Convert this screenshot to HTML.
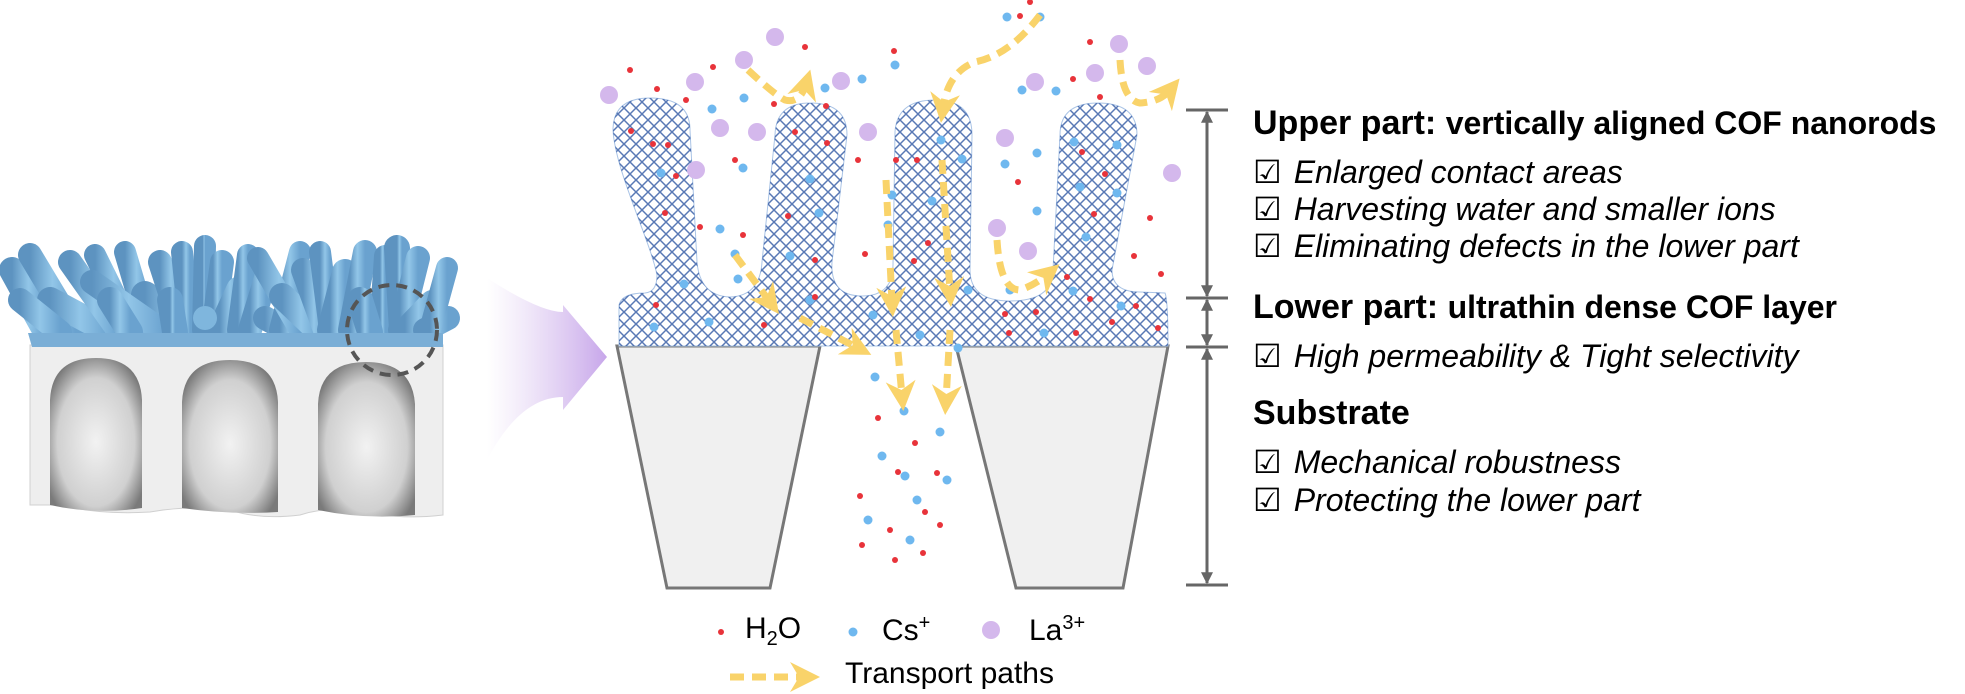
<!DOCTYPE html>
<html><head><meta charset="utf-8"><style>
html,body{margin:0;padding:0;background:#fff;}
body{width:1965px;height:694px;overflow:hidden;position:relative;font-family:"Liberation Sans",Arial,sans-serif;}
svg{position:absolute;left:0;top:0;}
.t{position:absolute;white-space:nowrap;color:#000;}
.h{font-weight:bold;font-size:34px;}
.h small{font-size:32px;}
.i{font-style:italic;font-size:32px;}
.i span{font-style:normal;margin-right:12px;}
</style></head><body>
<svg width="1965" height="694" viewBox="0 0 1965 694">
<defs>
<pattern id="hatch" width="12" height="12" patternUnits="userSpaceOnUse">
<path d="M0,0 L12,12 M12,0 L0,12" stroke="#2f57a3" stroke-width="1.5"/>
</pattern>
<linearGradient id="pg" x1="0" x2="1" y1="0" y2="0">
<stop offset="0" stop-color="#d9c3ee" stop-opacity="0"/>
<stop offset="1" stop-color="#c7a6ea"/>
</linearGradient>
<radialGradient id="pore" cx="0.5" cy="0.55" r="0.6">
<stop offset="0" stop-color="#f2f2f2"/>
<stop offset="0.7" stop-color="#d0d0d0"/>
<stop offset="1" stop-color="#7a7a7a"/>
</radialGradient>
<linearGradient id="rod" x1="0" x2="1">
<stop offset="0" stop-color="#5d93c0"/>
<stop offset="0.5" stop-color="#92c6e8"/>
<stop offset="1" stop-color="#6aa2cf"/>
</linearGradient>
<marker id="ah" viewBox="0 0 10 10" refX="5" refY="5" markerWidth="30" markerHeight="30" orient="auto" markerUnits="userSpaceOnUse">
<path d="M0,0 L10,5 L0,10 L3,5Z" fill="#f9d36a"/>
</marker>
<marker id="gh" viewBox="0 0 10 10" refX="9" refY="5" markerWidth="12" markerHeight="14" orient="auto" markerUnits="userSpaceOnUse">
<path d="M0,0 L10,5 L0,10Z" fill="#666"/>
</marker>
</defs>

<path d="M30,345 L443,345 L443,515 Q400,520 370,512 Q330,505 300,515 Q260,520 230,510 Q190,505 150,512 Q100,515 60,505 L30,505 Z" fill="#eeeeee" stroke="#d0d0d0"/>
<path d="M50,505 L50,400 Q52,358 96,358 Q140,358 142,400 L142,508 Q95,515 50,505Z" fill="url(#pore)"/>
<path d="M182,508 L182,402 Q184,360 230,360 Q276,360 278,402 L278,512 Q230,515 182,508Z" fill="url(#pore)"/>
<path d="M318,510 L318,404 Q320,362 366,362 Q412,362 415,404 L415,515 Q366,520 318,510Z" fill="url(#pore)"/>
<g stroke-linecap="round" fill="none" stroke="url(#rod)">
<path d="M12,270 L45,330" stroke-width="26"/>
<path d="M30,255 L75,330" stroke-width="24"/>
<path d="M50,300 L110,332" stroke-width="26"/>
<path d="M70,262 L118,330" stroke-width="24"/>
<path d="M95,255 L132,330" stroke-width="22"/>
<path d="M125,252 L148,330" stroke-width="22"/>
<path d="M145,295 L200,333" stroke-width="28"/>
<path d="M92,282 L165,333" stroke-width="24"/>
<path d="M160,262 L182,330" stroke-width="24"/>
<path d="M182,252 L190,330" stroke-width="22"/>
<path d="M205,246 L203,330" stroke-width="22"/>
<path d="M222,262 L213,330" stroke-width="24"/>
<path d="M240,290 L220,333" stroke-width="28"/>
<path d="M248,255 L238,330" stroke-width="22"/>
<path d="M266,278 L250,330" stroke-width="24"/>
<path d="M265,318 L292,333" stroke-width="24"/>
<path d="M300,252 L280,330" stroke-width="22"/>
<path d="M258,258 L300,330" stroke-width="22"/>
<path d="M282,296 L320,332" stroke-width="26"/>
<path d="M303,270 L325,330" stroke-width="24"/>
<path d="M320,252 L330,330" stroke-width="22"/>
<path d="M345,272 L330,330" stroke-width="26"/>
<path d="M365,252 L350,330" stroke-width="24"/>
<path d="M385,256 L380,330" stroke-width="22"/>
<path d="M397,248 L402,330" stroke-width="26"/>
<path d="M418,258 L400,330" stroke-width="24"/>
<path d="M432,302 L405,330" stroke-width="24"/>
<path d="M448,318 L425,330" stroke-width="24"/>
<path d="M447,268 L430,330" stroke-width="22"/>
<path d="M20,300 L60,332" stroke-width="24"/>
<path d="M110,300 L130,332" stroke-width="26"/>
<path d="M170,300 L175,332" stroke-width="26"/>
<path d="M360,300 L370,332" stroke-width="26"/>
</g>
<circle cx="205" cy="318" r="12" fill="#7fb6dd"/>
<path d="M28,333 L443,333 L443,347 L32,347 Z" fill="#7aaed6"/>
<circle cx="392" cy="330" r="45" fill="none" stroke="#555" stroke-width="4" stroke-dasharray="11,7"/>

<path d="M487,278 Q540,312 563,312 L563,305 L607,357 L563,410 L563,397 Q520,397 487,460 Z" fill="url(#pg)"/>

<path d="M617,346 L820,346 L770,588 L667,588 Z" fill="#f0f0f0" stroke="#777" stroke-width="3"/>
<path d="M956,346 L1168,346 L1123,588 L1016,588 Z" fill="#f0f0f0" stroke="#777" stroke-width="3"/>

<path d="M619,346 L619,305 Q622,293 645,293 Q657,292 657,275 C650,240 615,170 613,130 Q613,98 650,98 Q690,98 690,130 L697,262 Q700,296 730,297 Q760,296 762,262 L775,135 Q776,103 810,103 Q847,103 847,135 L832,262 Q830,296 862,296 Q893,296 893,265 L895,132 Q897,100 935,100 Q972,100 972,135 L970,270 Q970,301 1010,301 Q1053,301 1053,270 L1060,135 Q1060,103 1098,103 Q1137,103 1137,135 L1112,270 Q1112,292 1140,292 L1165,293 Q1168,300 1168,346 Z" fill="#fff" stroke="#aac4e6" stroke-width="1"/>
<path d="M619,346 L619,305 Q622,293 645,293 Q657,292 657,275 C650,240 615,170 613,130 Q613,98 650,98 Q690,98 690,130 L697,262 Q700,296 730,297 Q760,296 762,262 L775,135 Q776,103 810,103 Q847,103 847,135 L832,262 Q830,296 862,296 Q893,296 893,265 L895,132 Q897,100 935,100 Q972,100 972,135 L970,270 Q970,301 1010,301 Q1053,301 1053,270 L1060,135 Q1060,103 1098,103 Q1137,103 1137,135 L1112,270 Q1112,292 1140,292 L1165,293 Q1168,300 1168,346 Z" fill="url(#hatch)" opacity="0.8"/>

<g fill="#d4b8ec">
<circle cx="609" cy="95" r="9"/><circle cx="695" cy="82" r="9"/><circle cx="744" cy="60" r="9"/><circle cx="775" cy="37" r="9"/>
<circle cx="720" cy="128" r="9"/><circle cx="696" cy="170" r="9"/><circle cx="841" cy="81" r="9"/><circle cx="868" cy="132" r="9"/>
<circle cx="1035" cy="82" r="9"/><circle cx="1119" cy="44" r="9"/><circle cx="1147" cy="66" r="9"/><circle cx="1095" cy="73" r="9"/>
<circle cx="1005" cy="138" r="9"/><circle cx="997" cy="228" r="9"/><circle cx="1028" cy="251" r="9"/><circle cx="1172" cy="173" r="9"/>
<circle cx="757" cy="132" r="9"/>
</g>
<g fill="#6fb8ef">
<circle cx="712" cy="109" r="4.5"/><circle cx="744" cy="98" r="4.5"/><circle cx="743" cy="168" r="4.5"/><circle cx="825" cy="88" r="4.5"/>
<circle cx="862" cy="79" r="4.5"/><circle cx="895" cy="65" r="4.5"/><circle cx="1007" cy="17" r="4.5"/><circle cx="1040" cy="17" r="4.5"/>
<circle cx="1022" cy="90" r="4.5"/><circle cx="1056" cy="91" r="4.5"/><circle cx="1037" cy="153" r="4.5"/><circle cx="1005" cy="164" r="4.5"/>
<circle cx="1037" cy="211" r="4.5"/><circle cx="720" cy="229" r="4.5"/><circle cx="735" cy="254" r="4.5"/><circle cx="738" cy="279" r="4.5"/>
<circle cx="661" cy="173" r="4.5"/><circle cx="684" cy="284" r="4.5"/><circle cx="654" cy="327" r="4.5"/><circle cx="709" cy="322" r="4.5"/>
<circle cx="810" cy="300" r="4.5"/><circle cx="790" cy="256" r="4.5"/><circle cx="810" cy="179" r="4.5"/><circle cx="819" cy="213" r="4.5"/>
<circle cx="892" cy="195" r="4.5"/><circle cx="888" cy="225" r="4.5"/><circle cx="941" cy="140" r="4.5"/><circle cx="932" cy="201" r="4.5"/>
<circle cx="962" cy="159" r="4.5"/><circle cx="958" cy="348" r="4.5"/><circle cx="1010" cy="290" r="4.5"/><circle cx="968" cy="290" r="4.5"/>
<circle cx="1074" cy="142" r="4.5"/><circle cx="1117" cy="145" r="4.5"/><circle cx="1080" cy="187" r="4.5"/><circle cx="1117" cy="193" r="4.5"/>
<circle cx="1086" cy="237" r="4.5"/><circle cx="1073" cy="291" r="4.5"/><circle cx="1121" cy="306" r="4.5"/><circle cx="1044" cy="333" r="4.5"/>
<circle cx="920" cy="335" r="4.5"/><circle cx="875" cy="377" r="4.5"/><circle cx="904" cy="411" r="4.5"/><circle cx="940" cy="432" r="4.5"/>
<circle cx="882" cy="456" r="4.5"/><circle cx="905" cy="476" r="4.5"/><circle cx="947" cy="480" r="4.5"/><circle cx="917" cy="500" r="4.5"/>
<circle cx="868" cy="520" r="4.5"/><circle cx="910" cy="540" r="4.5"/><circle cx="873" cy="315" r="4.5"/>
</g>
<g fill="#e8333a">
<circle cx="630" cy="70" r="3"/><circle cx="657" cy="89" r="3"/><circle cx="686" cy="100" r="3"/><circle cx="713" cy="67" r="3"/>
<circle cx="774" cy="104" r="3"/><circle cx="805" cy="47" r="3"/><circle cx="826" cy="106" r="3"/><circle cx="894" cy="51" r="3"/>
<circle cx="1030" cy="2" r="3"/><circle cx="1020" cy="16" r="3"/><circle cx="1090" cy="42" r="3"/><circle cx="1073" cy="79" r="3"/>
<circle cx="1100" cy="97" r="3"/><circle cx="1018" cy="182" r="3"/><circle cx="1150" cy="218" r="3"/><circle cx="1134" cy="256" r="3"/>
<circle cx="1161" cy="274" r="3"/><circle cx="1082" cy="152" r="3"/><circle cx="1105" cy="174" r="3"/><circle cx="1094" cy="214" r="3"/>
<circle cx="1067" cy="277" r="3"/><circle cx="1090" cy="299" r="3"/><circle cx="1036" cy="312" r="3"/><circle cx="1009" cy="333" r="3"/>
<circle cx="1076" cy="333" r="3"/><circle cx="1112" cy="322" r="3"/><circle cx="1136" cy="306" r="3"/><circle cx="1158" cy="328" r="3"/>
<circle cx="631" cy="131" r="3"/><circle cx="653" cy="144" r="3"/><circle cx="668" cy="145" r="3"/><circle cx="676" cy="176" r="3"/>
<circle cx="665" cy="213" r="3"/><circle cx="735" cy="160" r="3"/><circle cx="700" cy="227" r="3"/><circle cx="743" cy="235" r="3"/>
<circle cx="656" cy="305" r="3"/><circle cx="764" cy="325" r="3"/><circle cx="795" cy="132" r="3"/><circle cx="827" cy="143" r="3"/>
<circle cx="788" cy="216" r="3"/><circle cx="815" cy="260" r="3"/><circle cx="815" cy="297" r="3"/><circle cx="858" cy="160" r="3"/>
<circle cx="865" cy="254" r="3"/><circle cx="896" cy="160" r="3"/><circle cx="917" cy="160" r="3"/><circle cx="928" cy="243" r="3"/>
<circle cx="914" cy="261" r="3"/><circle cx="1005" cy="314" r="3"/><circle cx="878" cy="418" r="3"/><circle cx="915" cy="443" r="3"/>
<circle cx="898" cy="472" r="3"/><circle cx="937" cy="473" r="3"/><circle cx="860" cy="496" r="3"/><circle cx="925" cy="512" r="3"/>
<circle cx="890" cy="530" r="3"/><circle cx="940" cy="525" r="3"/><circle cx="895" cy="560" r="3"/><circle cx="923" cy="553" r="3"/>
<circle cx="862" cy="545" r="3"/>
</g>

<g fill="none" stroke="#f9d36a" stroke-width="7" stroke-dasharray="14,8">
<path d="M748,70 Q775,95 785,100 Q800,104 806,84" marker-end="url(#ah)"/>
<path d="M735,255 L770,302" marker-end="url(#ah)"/>
<path d="M800,318 L858,348" marker-end="url(#ah)"/>
<path d="M886,180 L892,302" marker-end="url(#ah)"/>
<path d="M896,330 L902,396" marker-end="url(#ah)"/>
<path d="M1040,15 Q1010,55 975,62 Q948,72 943,108" marker-end="url(#ah)"/>
<path d="M942,160 L950,292" marker-end="url(#ah)"/>
<path d="M950,330 L946,400" marker-end="url(#ah)"/>
<path d="M1120,60 Q1122,100 1140,103 Q1160,102 1170,90" marker-end="url(#ah)"/>
<path d="M997,240 Q1000,290 1020,290 Q1035,285 1048,274" marker-end="url(#ah)"/>
<path d="M730,677 L805,677" marker-end="url(#ah)"/>
</g>

<g stroke="#666" stroke-width="3">
<line x1="1186" y1="110" x2="1228" y2="110"/>
<line x1="1186" y1="298" x2="1228" y2="298"/>
<line x1="1186" y1="347" x2="1228" y2="347"/>
<line x1="1186" y1="585" x2="1228" y2="585"/>
<line x1="1207" y1="200" x2="1207" y2="112" marker-end="url(#gh)"/>
<line x1="1207" y1="200" x2="1207" y2="296" marker-end="url(#gh)"/>
<line x1="1207" y1="322" x2="1207" y2="300" marker-end="url(#gh)"/>
<line x1="1207" y1="322" x2="1207" y2="345" marker-end="url(#gh)"/>
<line x1="1207" y1="460" x2="1207" y2="349" marker-end="url(#gh)"/>
<line x1="1207" y1="460" x2="1207" y2="583" marker-end="url(#gh)"/>
</g>

<circle cx="721" cy="632" r="3" fill="#e8333a"/>
<circle cx="853" cy="632" r="4.5" fill="#6fb8ef"/>
<circle cx="991" cy="630" r="9" fill="#d4b8ec"/>
</svg>

<div class="t h" style="left:1253px;top:104px;">Upper part: <small>vertically aligned COF nanorods</small></div>
<div class="t i" style="left:1253px;top:153px;"><span>☑</span>Enlarged contact areas</div>
<div class="t i" style="left:1253px;top:190px;"><span>☑</span>Harvesting water and smaller ions</div>
<div class="t i" style="left:1253px;top:227px;"><span>☑</span>Eliminating defects in the lower part</div>
<div class="t h" style="left:1253px;top:288px;">Lower part: <small>ultrathin dense COF layer</small></div>
<div class="t i" style="left:1253px;top:337px;"><span>☑</span>High permeability &amp; Tight selectivity</div>
<div class="t h" style="left:1253px;top:394px;">Substrate</div>
<div class="t i" style="left:1253px;top:443px;"><span>☑</span>Mechanical robustness</div>
<div class="t i" style="left:1253px;top:481px;"><span>☑</span>Protecting the lower part</div>

<div class="t" style="left:745px;top:612px;font-size:30px;">H<sub style="font-size:20px;">2</sub>O</div>
<div class="t" style="left:882px;top:612px;font-size:30px;">Cs<sup style="font-size:20px;">+</sup></div>
<div class="t" style="left:1029px;top:612px;font-size:30px;">La<sup style="font-size:20px;">3+</sup></div>
<div class="t" style="left:845px;top:657px;font-size:30px;">Transport paths</div>
</body></html>
